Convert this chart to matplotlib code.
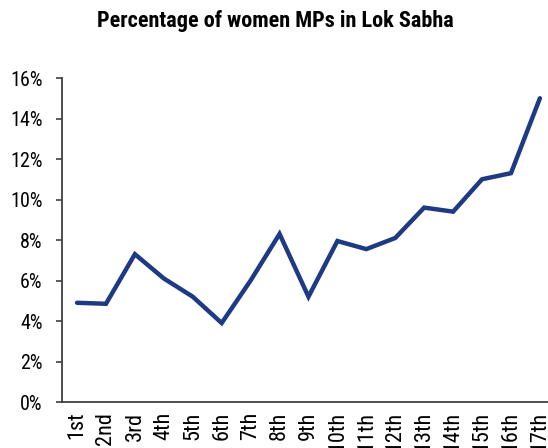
import matplotlib
matplotlib.use("Agg")
import matplotlib.pyplot as plt
from matplotlib.ticker import FuncFormatter
from matplotlib import font_manager

fonts = font_manager.fontManager.ttflist
def has_bold(n):
    return any(f.name == n and (f.weight in ("bold", 700) or str(f.weight) == "700") for f in fonts)
narrow = next((n for n in ["Liberation Sans Narrow", "Arial Narrow", "Roboto Condensed",
                           "Asap Condensed", "Archivo Narrow", "Liberation Sans"] if has_bold(n)),
              "DejaVu Sans")

categories = ["1st", "2nd", "3rd", "4th", "5th", "6th", "7th", "8th", "9th",
              "10th", "11th", "12th", "13th", "14th", "15th", "16th", "17th"]
women_pct = [4.9, 4.85, 7.3, 6.1, 5.2, 3.9, 6.0, 8.3, 5.2,
             7.95, 7.55, 8.1, 9.6, 9.4, 11.0, 11.3, 15.0]
yticks = [0, 2, 4, 6, 8, 10, 12, 14, 16]

plt.rcParams['font.family'] = [narrow, 'DejaVu Sans']
fig = plt.figure(figsize=(5.48, 4.48), dpi=100)
ax = fig.add_axes([62/548, 46/448, 1 - 62/548, 324/448])
x = list(range(len(categories)))
ax.plot(x, women_pct, color="#1f3a84", linewidth=3.2, solid_capstyle="round", solid_joinstyle="miter")
ax.set_xlim(-0.52, 16.28)
ax.set_ylim(0, 16)
ax.set_yticks(yticks)
ax.yaxis.set_major_formatter(FuncFormatter(lambda v, p: f"{v:.0f}%"))
ax.set_xticks(x)
ax.set_xticklabels(categories, rotation=90, fontsize=16)
ax.tick_params(axis="x", length=0, pad=7)
ax.tick_params(axis="y", length=4, width=1.2, color="#404040", labelsize=14.5, pad=10)
for s in ["top", "right"]:
    ax.spines[s].set_visible(False)
for s in ["left", "bottom"]:
    ax.spines[s].set_color("#404040")
    ax.spines[s].set_linewidth(1.3)
fig.text(275/548, 1 - 21/448, "Percentage of women MPs in Lok Sabha", ha="center", va="center",
         fontsize=16, fontweight="bold")
fig.savefig("out.png", dpi=100)
